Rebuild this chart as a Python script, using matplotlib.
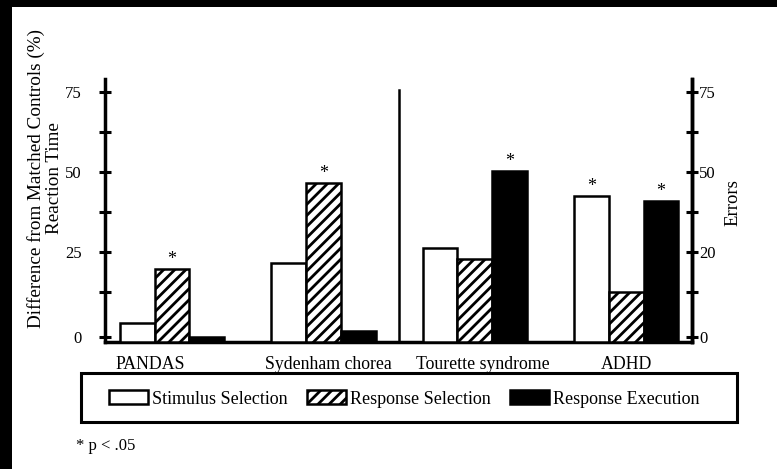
import matplotlib
matplotlib.use("Agg")
import matplotlib.pyplot as plt
from matplotlib.patches import Rectangle
import matplotlib.transforms as mtransforms
import numpy as np

plt.rcParams['font.family'] = ['Liberation Serif', 'DejaVu Serif']
plt.rcParams['hatch.linewidth'] = 2.0

categories = ["PANDAS", "Sydenham chorea", "Tourette syndrome", "ADHD"]
series_names = ["Stimulus Selection", "Response Selection", "Response Execution"]
stimulus = [5.7, 23.7, 28.2, 43.8]
response_sel = [21.9, 47.7, 24.9, 15.0]
response_exe = [1.5, 3.3, 51.3, 42.3]
sig_stimulus = [False, False, False, True]
sig_response_sel = [True, True, False, False]
sig_response_exe = [False, False, True, True]

left_tick_values = [1.5, 15, 27, 39, 51, 63, 75]
left_tick_labels = ["0", "", "25", "", "50", "", "75"]
right_tick_labels = ["0", "", "20", "", "50", "", "75"]
left_title = "Difference from Matched Controls (%)\nReaction Time"
right_title = "Errors"
footnote = "* p < .05"

fig = plt.figure(figsize=(7.77, 4.69), dpi=100)
fig.patch.set_facecolor("black")
fig.patches.append(Rectangle((12/777, 0), 765/777, 462/469, transform=fig.transFigure,
                             facecolor="white", edgecolor="none", zorder=-10))

ax = fig.add_axes([105/777, (469-342)/469, (692-105)/777, (342-79)/469])
ax.set_facecolor("none")

x = np.arange(len(categories))
w = 0.23
styles = [dict(facecolor="white", hatch=None),
          dict(facecolor="white", hatch="///"),
          dict(facecolor="black", hatch=None)]
data = [stimulus, response_sel, response_exe]
sigs = [sig_stimulus, sig_response_sel, sig_response_exe]
handles = []
for k, (vals, st, sg, name) in enumerate(zip(data, styles, sigs, series_names)):
    bars = ax.bar(x + (k - 1) * w, vals, width=w, facecolor=st["facecolor"], hatch=st["hatch"],
                  edgecolor="black", linewidth=1.8, label=name, zorder=3)
    handles.append(bars)
    for xi, v, s in zip(x + (k - 1) * w, vals, sg):
        if s:
            ax.annotate("*", (xi, v), xytext=(0, 1), textcoords="offset points",
                        ha="center", va="bottom", fontsize=13)

ax.set_xlim(-0.4425, 3.435)
ax.set_ylim(0, 78.9)

ax.spines["top"].set_visible(False)
for s in ["left", "right", "bottom"]:
    ax.spines[s].set_linewidth(2.5)

ax.axvline(1.5, ymin=0, ymax=75.6/78.9, color="black", linewidth=1.8)

ax.set_xticks(x)
ax.set_xticklabels(categories, fontsize=12.8)
ax.tick_params(axis="x", length=0, pad=10)
label_nudges = [-22, 5, 8, 0]
for lab, dx in zip(ax.get_xticklabels(), label_nudges):
    lab.set_transform(lab.get_transform() + mtransforms.ScaledTranslation(dx/100, 0, fig.dpi_scale_trans))

ax.set_yticks(left_tick_values)
ax.set_yticklabels(left_tick_labels, fontsize=12)
ax.tick_params(axis="y", direction="inout", length=8, width=2.2, pad=13)

ax2 = ax.twinx()
ax2.set_ylim(ax.get_ylim())
ax2.set_yticks(left_tick_values)
ax2.set_yticklabels(right_tick_labels, fontsize=12)
ax2.tick_params(axis="y", direction="inout", length=8, width=2.2, pad=1)
for s in ["top", "left", "bottom"]:
    ax2.spines[s].set_visible(False)
ax2.spines["right"].set_linewidth(2.5)

fig.text(45/777, 1 - 178/469, left_title, rotation=90, ha="center", va="center",
         fontsize=13.8, multialignment="center", linespacing=1.1)
fig.text(733/777, 1 - 203/469, right_title, rotation=90, ha="center", va="center", fontsize=13.5)

# legend frame
fig.patches.append(Rectangle((81/777, (469-422)/469), (737-81)/777, 49/469, transform=fig.transFigure,
                             facecolor="white", edgecolor="black", linewidth=2.2, zorder=1))
leg = fig.legend(handles=handles, labels=series_names, loc="center",
                 bbox_to_anchor=(404/777, 1 - 399/469), ncol=3, fontsize=13, frameon=False,
                 handlelength=2.2, handleheight=0.78, handletextpad=0.2,
                 borderaxespad=0, borderpad=0.0, columnspacing=1.05)
leg.set_zorder(2)

fig.text(76/777, 1 - 446/469, footnote, ha="left", va="center", fontsize=12)

fig.savefig("out.png", dpi=100, facecolor=fig.get_facecolor())
